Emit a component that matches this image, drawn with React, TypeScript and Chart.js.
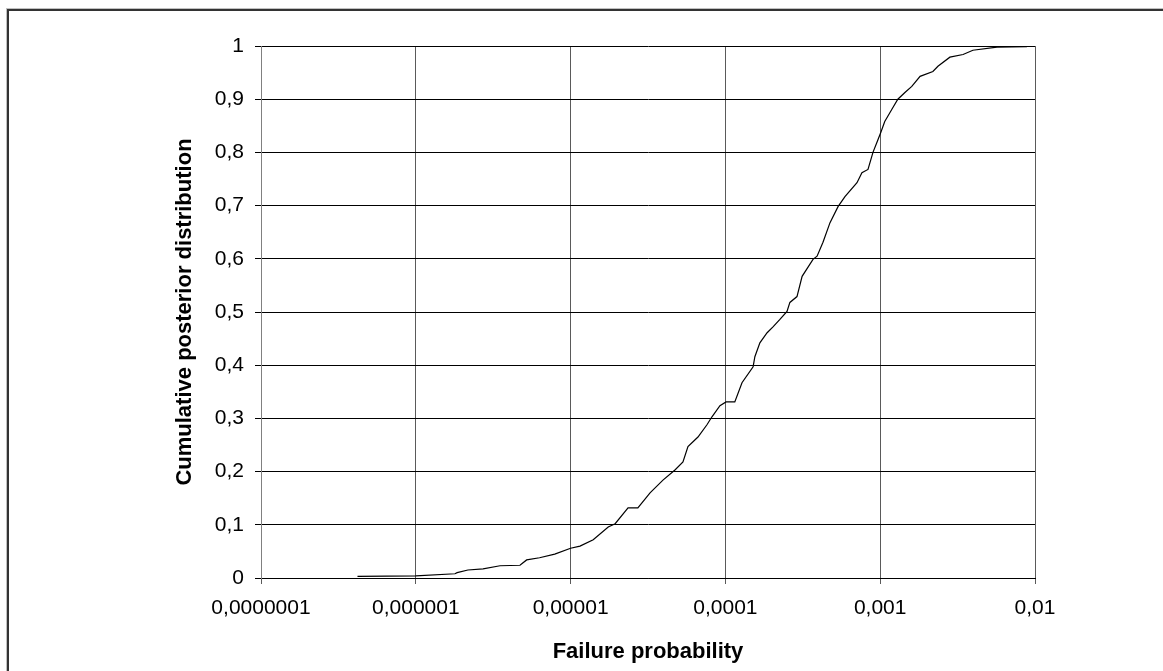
import React, { useEffect, useRef } from "react";
import { Chart, registerables } from "chart.js";

Chart.register(...registerables);

const failureProb = [
  4.2e-7, 1.0e-6, 1.79e-6, 1.85e-6, 2.17e-6, 2.72e-6, 3.5e-6, 4.71e-6, 5.2e-6, 6.3e-6, 7.9e-6,
  1.0e-5, 1.15e-5, 1.4e-5, 1.75e-5, 1.94e-5, 2.35e-5, 2.72e-5, 3.26e-5, 3.95e-5, 4.72e-5, 5.32e-5,
  5.73e-5, 6.65e-5, 7.6e-5, 8.19e-5, 9.22e-5, 1.01e-4, 1.15e-4, 1.28e-4, 1.51e-4, 1.55e-4, 1.67e-4,
  1.86e-4, 2.03e-4, 2.25e-4, 2.5e-4, 2.61e-4, 2.9e-4, 3.13e-4, 3.68e-4, 3.91e-4, 4.27e-4, 4.74e-4,
  5.34e-4, 5.92e-4, 7.08e-4, 7.62e-4, 8.34e-4, 8.98e-4, 9.53e-4, 1.01e-3, 1.07e-3, 1.19e-3, 1.3e-3,
  1.45e-3, 1.6e-3, 1.81e-3, 2.19e-3, 2.36e-3, 2.82e-3, 3.43e-3, 3.97e-3, 5.68e-3, 8.87e-3,
];

const cumulative = [
  0.003, 0.004, 0.008, 0.01, 0.015, 0.017, 0.023, 0.024, 0.034, 0.038, 0.045,
  0.056, 0.06, 0.072, 0.096, 0.102, 0.132, 0.132, 0.16, 0.184, 0.203, 0.218,
  0.247, 0.265, 0.288, 0.303, 0.324, 0.331, 0.331, 0.367, 0.397, 0.416, 0.442,
  0.461, 0.472, 0.486, 0.501, 0.518, 0.529, 0.567, 0.599, 0.605, 0.631, 0.668,
  0.698, 0.717, 0.743, 0.762, 0.768, 0.8, 0.819, 0.838, 0.858, 0.881, 0.9,
  0.913, 0.924, 0.943, 0.952, 0.962, 0.979, 0.984, 0.992, 0.998, 0.999,
];

const xTickValues = [1e-7, 1e-6, 1e-5, 1e-4, 1e-3, 1e-2];
const xTickLabels = ["0,0000001", "0,000001", "0,00001", "0,0001", "0,001", "0,01"];
const yTickLabels = ["0", "0,1", "0,2", "0,3", "0,4", "0,5", "0,6", "0,7", "0,8", "0,9", "1"];

const FONT = "'Liberation Sans', Arial, Helvetica, sans-serif";

export default function App() {
  const canvasRef = useRef<HTMLCanvasElement | null>(null);

  useEffect(() => {
    const canvas = canvasRef.current;
    if (!canvas) return;
    const chart = new Chart(canvas, {
      type: "line",
      data: {
        datasets: [
          {
            data: failureProb.map((x, i) => ({ x, y: cumulative[i] })),
            borderColor: "#000000",
            borderWidth: 1.2,
            pointRadius: 0,
            tension: 0,
            fill: false,
          },
        ],
      },
      options: {
        animation: false,
        responsive: false,
        devicePixelRatio: 1,
        layout: { padding: { left: 0, top: 46, right: 128, bottom: 0 } },
        plugins: { legend: { display: false }, tooltip: { enabled: false } },
        scales: {
          x: {
            type: "logarithmic",
            min: 1e-7,
            max: 1e-2,
            afterBuildTicks: (scale: any) => {
              scale.ticks = xTickValues.map((v) => ({ value: v, major: true }));
            },
            afterFit: (scale: any) => {
              scale.height = 93;
            },
            ticks: {
              autoSkip: false,
              maxRotation: 0,
              color: "#000",
              padding: 11.4,
              font: { family: FONT, size: 21 },
              callback: (_v: any, i: number) => xTickLabels[i],
            },
            grid: { color: "#5a5a5a", lineWidth: 1, tickLength: 6, drawTicks: true },
            border: { color: "#000000", width: 1 },
            title: {
              display: true,
              text: "Failure probability",
              color: "#000",
              font: { family: FONT, size: 22, weight: "bold" },
              padding: { top: 0, bottom: 5.8 },
            },
          },
          y: {
            type: "linear",
            min: 0,
            max: 1,
            afterBuildTicks: (scale: any) => {
              scale.ticks = yTickLabels.map((_, i) => ({ value: i / 10 }));
            },
            afterFit: (scale: any) => {
              scale.width = 261;
            },
            ticks: {
              color: "#000",
              padding: 11,
              font: { family: FONT, size: 21 },
              callback: (_v: any, i: number) => yTickLabels[i],
            },
            grid: { color: "#000000", lineWidth: 1, tickLength: 6, drawTicks: true },
            border: { color: "#808080", width: 1 },
            title: {
              display: true,
              text: "Cumulative posterior distribution",
              color: "#000",
              font: { family: FONT, size: 22, weight: "bold" },
              padding: { top: 171.8, bottom: 0 },
            },
          },
        },
      },
    });
    return () => chart.destroy();
  }, []);

  return (
    <div>
      <canvas
        ref={canvasRef}
        width={1163}
        height={671}
        style={{ position: "fixed", left: 0, top: 0, width: 1163, height: 671 }}
      />
      <div
        style={{
          position: "fixed",
          left: 6,
          top: 8,
          width: 3000,
          height: 3000,
          borderTop: "1px solid #c0c0c0",
          borderLeft: "1px solid #c0c0c0",
          pointerEvents: "none",
        }}
      >
        <div
          style={{
            width: "100%",
            height: "100%",
            borderTop: "2px solid #333333",
            borderLeft: "2px solid #333333",
          }}
        />
      </div>
    </div>
  );
}
